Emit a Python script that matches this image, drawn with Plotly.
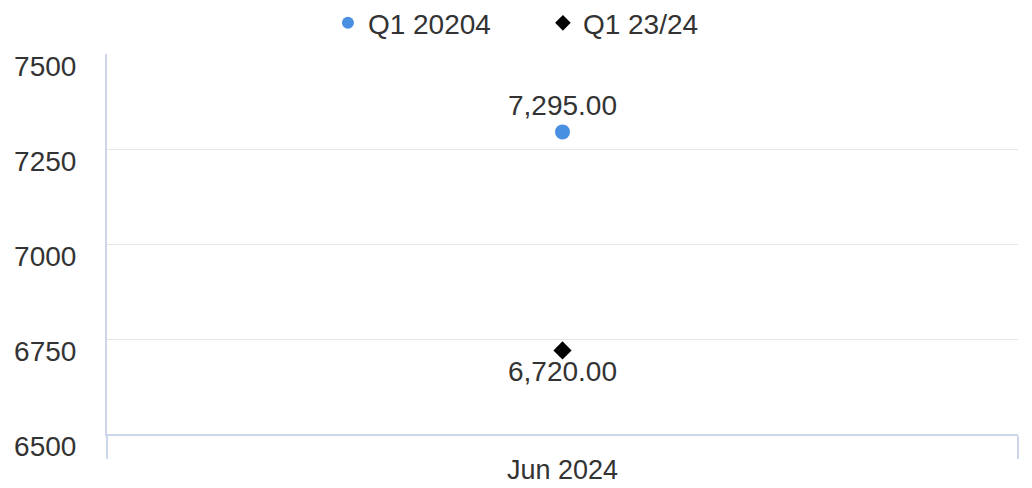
import plotly.graph_objects as go

categories = ["Jun 2024"]
series_names = ["Q1 20204", "Q1 23/24"]
q1_2024 = [7295.00]
q1_2324 = [6720.00]
y_ticks = [6500, 6750, 7000, 7250, 7500]

FONT = "Liberation Sans, Arial, sans-serif"
TXT = "#333333"
FS = 28

fig = go.Figure()
fig.add_trace(go.Scatter(
    x=categories, y=q1_2024, name=series_names[0], mode="markers+text",
    marker=dict(symbol="circle", size=15, color="#4a90e2"),
    text=[f"{v:,.2f}" for v in q1_2024], textposition="top center",
    textfont=dict(family=FONT, size=FS, color=TXT), cliponaxis=False,
))
fig.add_trace(go.Scatter(
    x=categories, y=q1_2324, name=series_names[1], mode="markers+text",
    marker=dict(symbol="diamond", size=14, color="#000000"),
    text=[f"{v:,.2f}" for v in q1_2324], textposition="bottom center",
    textfont=dict(family=FONT, size=FS, color=TXT), cliponaxis=False,
))

fig.update_layout(
    width=1032, height=488,
    margin=dict(l=99, r=22, t=46, b=62, autoexpand=False),
    paper_bgcolor="white", plot_bgcolor="white",
    font=dict(family=FONT, size=FS, color=TXT),
    showlegend=True,
    legend=dict(orientation="h", x=0.31, xanchor="left", xref="container",
                y=0.969, yanchor="middle", yref="container",
                font=dict(family=FONT, size=FS, color=TXT),
                entrywidth=170, entrywidthmode="pixels",
                itemsizing="constant"),
    xaxis=dict(
        type="category", range=[-0.5, 0.5], tickson="boundaries",
        ticks="outside", ticklen=23, tickcolor="#ccd6eb", tickwidth=2,
        showline=True, linecolor="#ccd6eb", linewidth=2,
        showgrid=False, zeroline=False, ticklabelstandoff=11,
        tickfont=dict(family=FONT, size=27, color=TXT),
    ),
    yaxis=dict(
        range=[6500, 7500], tickvals=y_ticks, ticktext=[str(v) for v in y_ticks],
        showgrid=True, gridcolor="#e6e6e6", gridwidth=1,
        showline=True, linecolor="#ccd6eb", linewidth=2,
        zeroline=False, ticks="", ticklabelstandoff=23, ticklabelshift=12,
        tickfont=dict(family=FONT, size=FS, color=TXT),
    ),
)

fig.write_html("out.html")
